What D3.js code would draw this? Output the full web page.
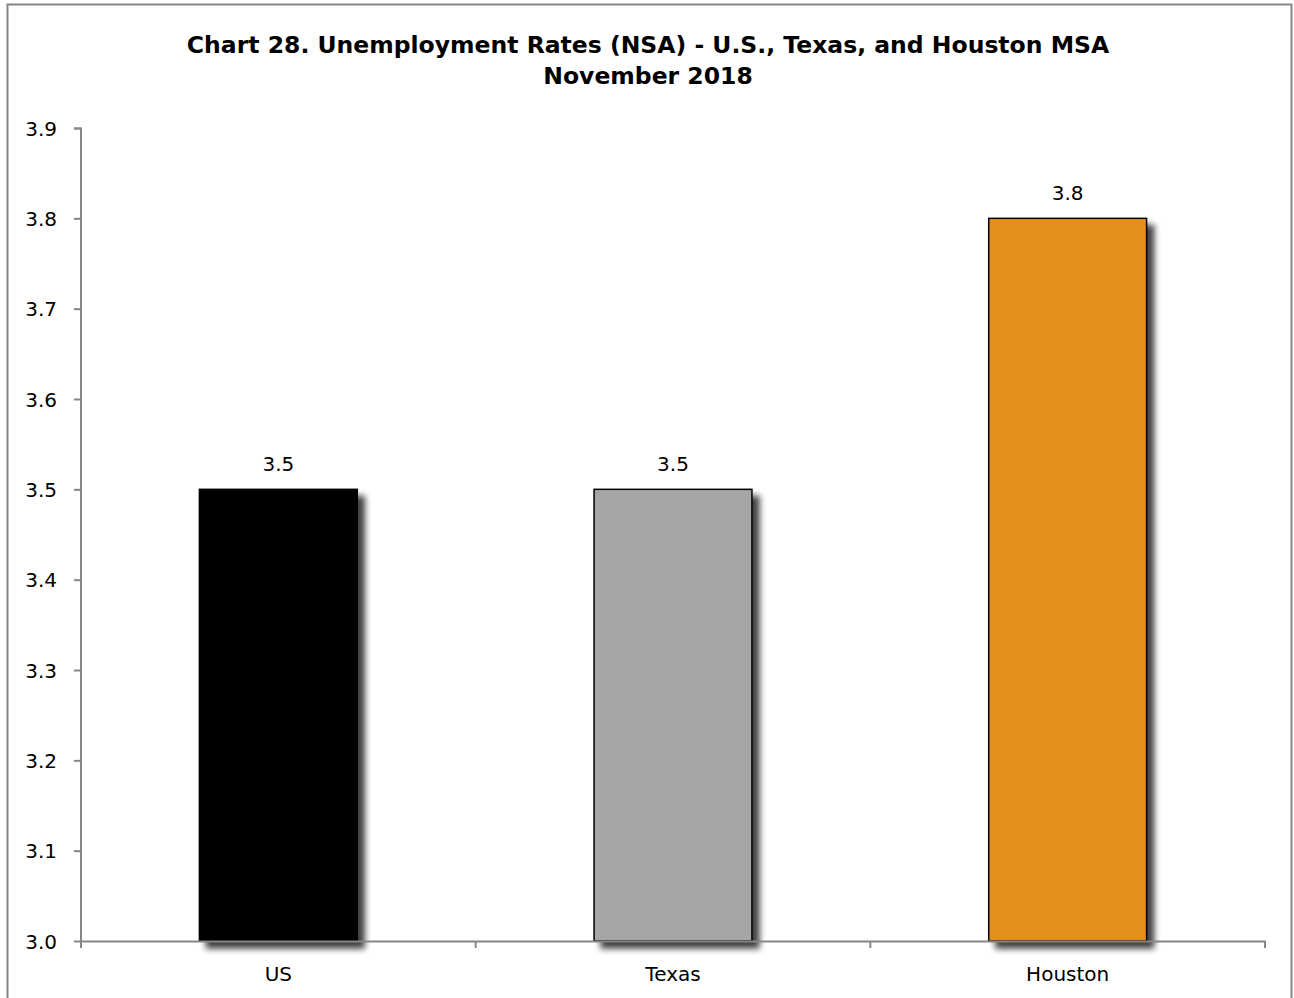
<!DOCTYPE html>
<html>
<head>
<meta charset="utf-8">
<script src="https://cdn.jsdelivr.net/npm/d3@7"></script>
<style>
  body { margin: 0; background: #fff; }
  svg { display: block; }
  text { font-family: "DejaVu Sans", sans-serif; fill: #000; }
</style>
</head>
<body>
<script>
// chart data
var categories = ["US", "Texas", "Houston"];
var rates = [3.5, 3.5, 3.8];
var barColors = ["#000000", "#a6a6a6", "#e48f1e"];
var yTicks = [3.0, 3.1, 3.2, 3.3, 3.4, 3.5, 3.6, 3.7, 3.8, 3.9];
var titleLines = ["Chart 28. Unemployment Rates (NSA) - U.S., Texas, and Houston MSA", "November 2018"];

var W = 1294, H = 998;
var margin = {top: 128, right: 29, bottom: 57, left: 81},
    width = W - margin.left - margin.right,
    height = H - margin.top - margin.bottom;

var svg = d3.select("body").append("svg")
    .attr("width", W)
    .attr("height", H);

// drop shadow for bars
var defs = svg.append("defs");
var f = defs.append("filter").attr("id", "shadow")
    .attr("x", "-20%").attr("y", "-20%").attr("width", "150%").attr("height", "150%");
f.append("feGaussianBlur").attr("in", "SourceAlpha").attr("stdDeviation", 3).attr("result", "blur");
f.append("feOffset").attr("in", "blur").attr("dx", 7).attr("dy", 7).attr("result", "off");
f.append("feComponentTransfer").attr("in", "off").attr("result", "shade")
  .append("feFuncA").attr("type", "linear").attr("slope", 0.75);
var merge = f.append("feMerge");
merge.append("feMergeNode").attr("in", "shade");
merge.append("feMergeNode").attr("in", "SourceGraphic");

// outer frame
svg.append("rect")
    .attr("x", 7.5).attr("y", 4.5)
    .attr("width", 1284).attr("height", H + 10)
    .attr("fill", "none")
    .attr("stroke", "#868686")
    .attr("stroke-width", 2);

// title
svg.append("text")
    .attr("x", 648).attr("y", 0)
    .attr("text-anchor", "middle")
    .style("font-weight", "bold")
    .style("font-size", "23.5px")
    .selectAll("tspan")
    .data(titleLines)
  .enter().append("tspan")
    .attr("x", 648)
    .attr("y", function(d, i) { return 53 + i * 31; })
    .text(function(d) { return d; });

var g = svg.append("g")
    .attr("transform", "translate(" + margin.left + "," + margin.top + ")");

var x = d3.scaleBand()
    .domain(categories)
    .range([0, width])
    .paddingInner(0.6)
    .paddingOuter(0.3);

var y = d3.scaleLinear()
    .domain([3.0, 3.9])
    .range([height, 0]);

// bars
g.selectAll(".bar")
    .data(rates)
  .enter().append("rect")
    .attr("class", "bar")
    .attr("x", function(d, i) { return x(categories[i]); })
    .attr("width", x.bandwidth())
    .attr("y", function(d) { return y(d); })
    .attr("height", function(d) { return height - y(d); })
    .attr("fill", function(d, i) { return barColors[i]; })
    .attr("stroke", "#000")
    .attr("stroke-width", 1.5)
    .attr("filter", "url(#shadow)");

// value labels
g.selectAll(".val")
    .data(rates)
  .enter().append("text")
    .attr("class", "val")
    .attr("x", function(d, i) { return x(categories[i]) + x.bandwidth() / 2; })
    .attr("y", function(d) { return y(d) - 18; })
    .attr("text-anchor", "middle")
    .style("font-size", "20px")
    .text(function(d) { return d3.format(".1f")(d); });

// y axis
var yAxis = g.append("g")
    .call(d3.axisLeft(y).tickValues(yTicks).tickFormat(d3.format(".1f")).tickSize(7).tickPadding(17));
yAxis.selectAll("text").style("font-size", "20px").attr("dy", "0.36em");

// x axis: ticks at band boundaries
var xAxis = g.append("g")
    .attr("transform", "translate(0," + height + ")")
    .call(d3.axisBottom(x).tickSize(0).tickPadding(26));
xAxis.selectAll("text").style("font-size", "20px");
var step = x.step();
var bounds = d3.range(categories.length + 1).map(function(i) { return i * step; });
xAxis.selectAll(".bound")
    .data(bounds)
  .enter().append("line")
    .attr("class", "bound")
    .attr("x1", function(d) { return d; })
    .attr("x2", function(d) { return d; })
    .attr("y1", 0).attr("y2", 7)
    .attr("stroke", "#868686")
    .attr("stroke-width", 2);

svg.selectAll(".domain").attr("stroke", "#868686").attr("stroke-width", 2);
svg.selectAll(".tick line").attr("stroke", "#868686").attr("stroke-width", 2);
yAxis.select(".domain").attr("d", "M-7,0.5H0V" + height);
</script>
</body>
</html>
